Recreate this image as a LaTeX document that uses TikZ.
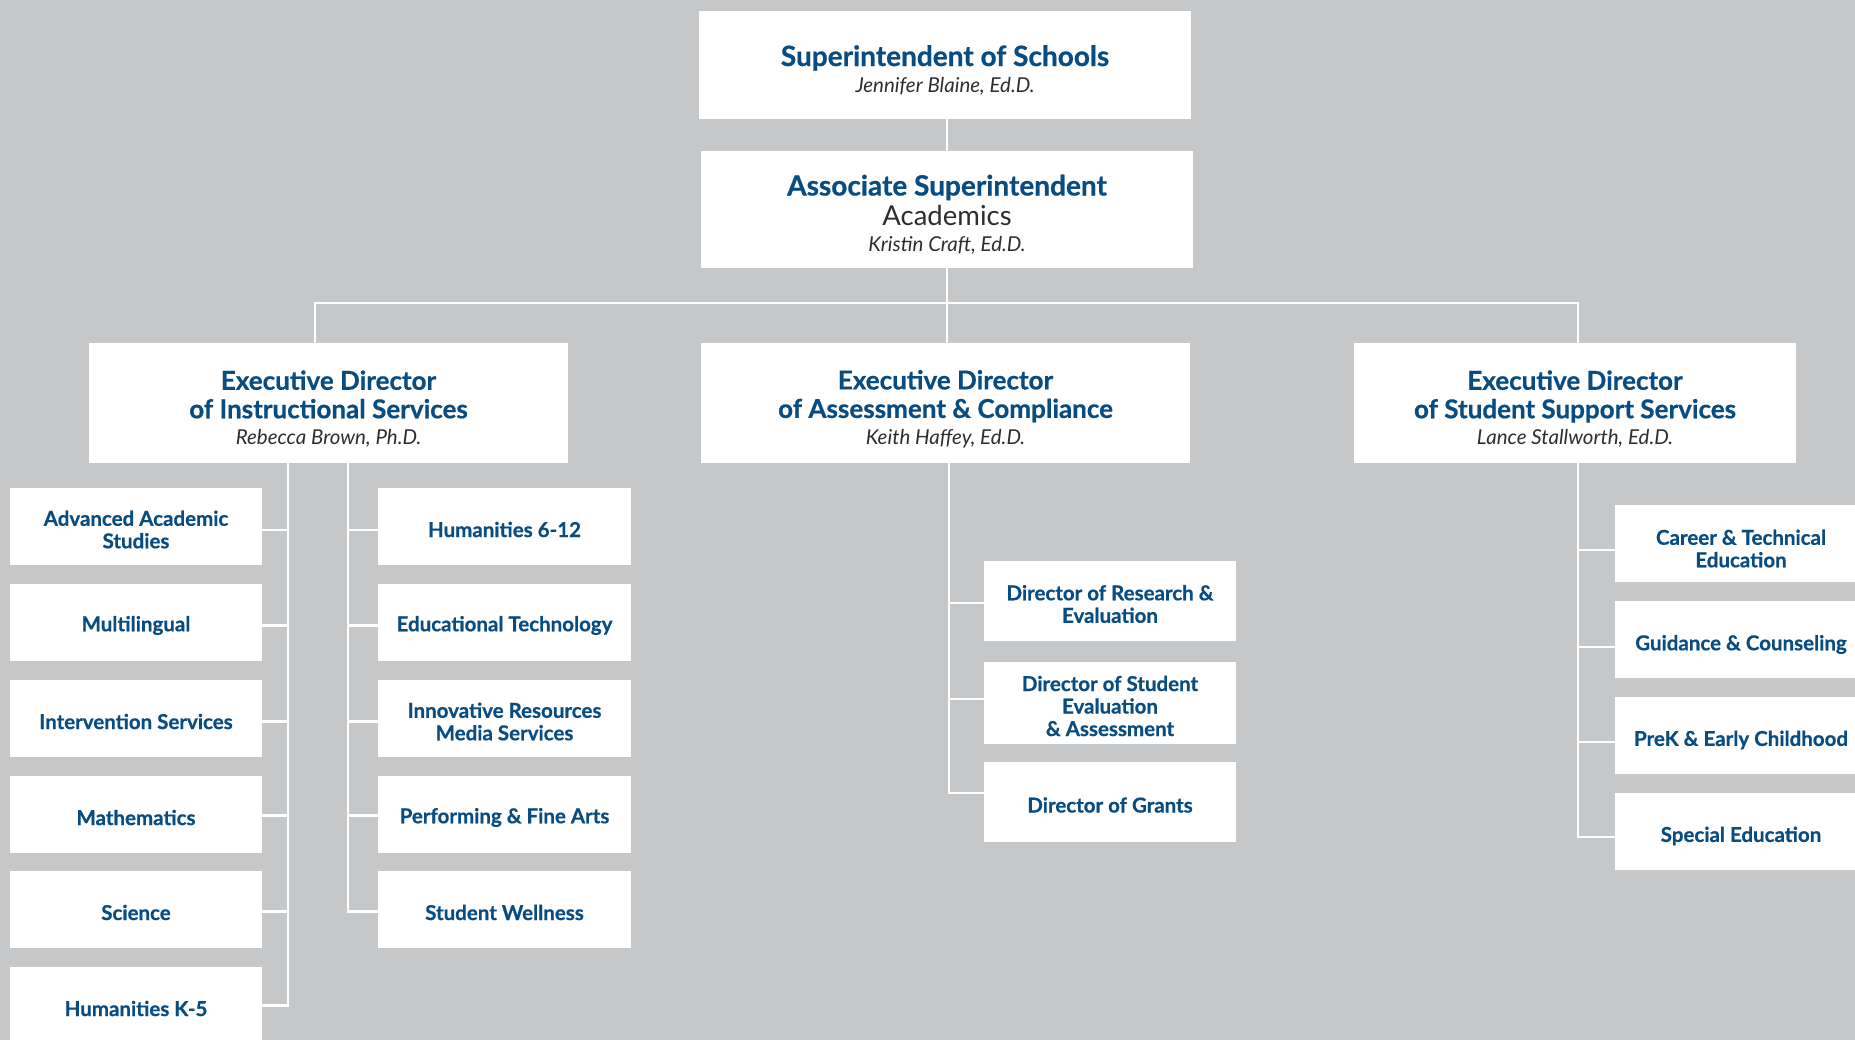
\documentclass[tikz,border=0pt]{standalone}
\usepackage{fontspec}
\setmainfont{Lato}[BoldFeatures={FakeBold=0.6}]
\definecolor{bgG}{HTML}{C6C7C9}
\definecolor{blueT}{HTML}{084C82}
\definecolor{nameT}{HTML}{2E2E2E}
\tikzset{
  box/.style={fill=white, inner sep=0pt},
  txt/.style={inner sep=0pt, align=center, text=blueT},
  toptxt/.style={txt, font=\bfseries\fontsize{28}{30}\selectfont},
  exectxt/.style={txt, font=\bfseries\fontsize{26}{28.5}\selectfont},
  unit/.style={box, minimum width=252pt, minimum height=77pt},
  utxt/.style={txt, font=\bfseries\fontsize{20.5}{22.5}\selectfont},
  conn/.style={draw=white, line width=2.6pt},
}
\newcommand{\pname}[1]{{\mdseries\itshape\color{nameT}\fontsize{20.5}{24}\selectfont #1}}
\begin{document}
\begin{tikzpicture}[x=1pt,y=-1pt]
\clip (0,0) rectangle (1855,1040);
\fill[bgG] (0,0) rectangle (1855,1040);

% top
\node[box, minimum width=492pt, minimum height=108pt] (sup) at (945,65) {};
\node[toptxt] (supT) at ([yshift=-5pt]sup.center) {Superintendent of Schools\\[-4pt]\pname{Jennifer Blaine, Ed.D.}};
\node[box, minimum width=492pt, minimum height=117pt] (assoc) at (947,209.5) {};
\node[toptxt] (assocT) at ([yshift=-5pt]assoc.center) {Associate Superintendent\\{\mdseries\color{nameT}\fontsize{27.5}{30}\selectfont Academics}\\[-4pt]\pname{Kristin Craft, Ed.D.}};

% executive directors
\node[box, minimum width=479pt, minimum height=120pt] (instr) at (328.5,403) {};
\node[exectxt] (instrT) at ([yshift=-6pt]instr.center) {Executive Director\\of Instructional Services\\[-2pt]\pname{Rebecca Brown, Ph.D.}};
\node[box, minimum width=489pt, minimum height=120pt] (assess) at (945.5,403) {};
\node[exectxt] (assessT) at ([yshift=-6pt]assess.center) {Executive Director\\of Assessment \& Compliance\\[-2pt]\pname{Keith Haffey, Ed.D.}};
\node[box, minimum width=442pt, minimum height=120pt] (stud) at (1575,403) {};
\node[exectxt] (studT) at ([yshift=-6pt]stud.center) {Executive Director\\of Student Support Services\\[-2pt]\pname{Lance Stallworth, Ed.D.}};

% instructional units, left column
\node[unit] (adv) at (136,526.5) {};
\node[unit] (mul) at (136,622.5) {};
\node[unit] (int) at (136,718.5) {};
\node[unit] (mat) at (136,814.5) {};
\node[unit] (sci) at (136,909.5) {};
\node[unit] (hk5) at (136,1005.5) {};
% instructional units, right column
\node[unit, minimum width=253pt] (h612) at (504.5,526.5) {};
\node[unit, minimum width=253pt] (edt) at (504.5,622.5) {};
\node[unit, minimum width=253pt] (inn) at (504.5,718.5) {};
\node[unit, minimum width=253pt] (pfa) at (504.5,814.5) {};
\node[unit, minimum width=253pt] (swl) at (504.5,909.5) {};
% assessment units
\node[unit, minimum height=80pt] (res) at (1110,601) {};
\node[unit, minimum height=82pt] (sea) at (1110,703) {};
\node[unit, minimum height=80pt] (gra) at (1110,802) {};
% student support units
\node[unit] (car) at (1741,543.5) {};
\node[unit] (gui) at (1741,639.5) {};
\node[unit] (pre) at (1741,735) {};
\node[unit] (spe) at (1741,831) {};

% unit labels
\foreach \n/\t in {adv/{Advanced Academic\\Studies}, mul/Multilingual, int/Intervention Services,
  mat/Mathematics, sci/Science, hk5/Humanities K-5, h612/Humanities 6-12,
  edt/Educational Technology, inn/{Innovative Resources\\Media Services},
  pfa/Performing \& Fine Arts, swl/Student Wellness,
  res/{Director of Research \&\\Evaluation}, sea/{Director of Student\\Evaluation\\\& Assessment},
  gra/Director of Grants}
  \node[utxt] (\n T) at ([yshift=-3pt]\n.center) {\t};
\foreach \n/\t in {car/{Career \& Technical\\Education}, gui/Guidance \& Counseling,
  pre/PreK \& Early Childhood, spe/Special Education}
  \node[utxt] (\n T) at ([yshift=-5pt]\n.center) {\t};

% trunk coordinates
\coordinate (bus) at (947,303);
\coordinate (dI) at (315,343);
\coordinate (dS) at (1578,343);
\coordinate (tL) at (288,463);
\coordinate (tR) at (348,463);
\coordinate (tA) at (949,463);
\coordinate (tS) at (1578,463);

% top connectors
\draw[conn] (sup.south -| assoc.north) -- (assoc.north);
\draw[conn] (assoc.south) -- (bus);
\draw[conn] (dI) -- (bus -| dI) -- (bus -| dS) -- (dS);
\draw[conn] (bus) -- (assess.north -| bus);

% instructional trunks and branches
\draw[conn] (tL) |- ([yshift=0pt]hk5.east);
\foreach \n/\o in {adv/-3.5,mul/-3,int/-3,mat/-1,sci/-2}
  \draw[conn] ([yshift=\o pt]\n.east) -- ([yshift=\o pt]\n.east -| tL);
\draw[conn] (tR) |- ([yshift=-2pt]swl.west);
\foreach \n/\o in {h612/-3.5,edt/-3,inn/-3,pfa/-1}
  \draw[conn] ([yshift=\o pt]\n.west) -- ([yshift=\o pt]\n.west -| tR);

% assessment trunk and branches
\draw[conn] (tA) |- ([yshift=9pt]gra.west);
\draw[conn] ([yshift=-2pt]res.west) -- ([yshift=-2pt]res.west -| tA);
\draw[conn] ([yshift=4pt]sea.west) -- ([yshift=4pt]sea.west -| tA);

% student trunk and branches
\draw[conn] (tS) |- ([yshift=-6pt]spe.west);
\foreach \n/\o in {car/-6.5,gui/-7.5,pre/-7}
  \draw[conn] ([yshift=\o pt]\n.west) -- ([yshift=\o pt]\n.west -| tS);
\end{tikzpicture}
\end{document}
